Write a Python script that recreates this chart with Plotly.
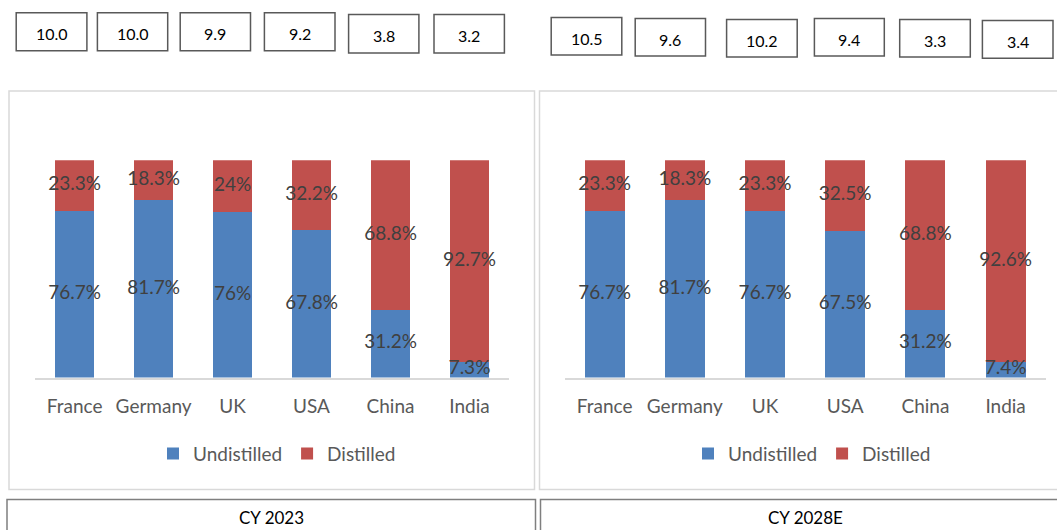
import plotly.graph_objects as go

W, H = 1057, 530

countries = ["France", "Germany", "UK", "USA", "China", "India"]
undistilled_2023 = [76.7, 81.7, 76, 67.8, 31.2, 7.3]
distilled_2023 = [23.3, 18.3, 24, 32.2, 68.8, 92.7]
undistilled_2028 = [76.7, 81.7, 76.7, 67.5, 31.2, 7.4]
distilled_2028 = [23.3, 18.3, 23.3, 32.5, 68.8, 92.6]
top_values_2023 = ["10.0", "10.0", "9.9", "9.2", "3.8", "3.2"]
top_values_2028 = ["10.5", "9.6", "10.2", "9.4", "3.3", "3.4"]
panel_titles = ["CY 2023", "CY 2028E"]

BLUE = "#4F81BD"
RED = "#C0504D"
FONT = "Lato"


def px(x):
    return x / W


def py(y):
    return 1 - y / H


fig = go.Figure()

panels = [
    (undistilled_2023, distilled_2023, "x", "y", "legend"),
    (undistilled_2028, distilled_2028, "x2", "y2", "legend2"),
]
for und, dis, xa, ya, lg in panels:
    fig.add_trace(go.Bar(x=countries, y=und, name="Undistilled", marker_color=BLUE,
                         marker_line_width=0, xaxis=xa, yaxis=ya, legend=lg))
    fig.add_trace(go.Bar(x=countries, y=dis, name="Distilled", marker_color=RED,
                         marker_line_width=0, xaxis=xa, yaxis=ya, legend=lg))
    # data labels centered in each segment
    fig.add_trace(go.Scatter(x=countries, y=[u / 2 for u in und], mode="text",
                             text=[f"{u:g}%" for u in und], textposition="middle center",
                             textfont=dict(family=FONT, size=19, color="#404040"),
                             xaxis=xa, yaxis=ya, showlegend=False, cliponaxis=False,
                             hoverinfo="skip"))
    fig.add_trace(go.Scatter(x=countries, y=[u + d / 2 for u, d in zip(und, dis)], mode="text",
                             text=[f"{d:g}%" for d in dis], textposition="middle center",
                             textfont=dict(family=FONT, size=19, color="#404040"),
                             xaxis=xa, yaxis=ya, showlegend=False, cliponaxis=False,
                             hoverinfo="skip"))

ydom = [py(377.6), py(160.3)]
xcommon = dict(type="category", showline=True, linecolor="#D9D9D9", linewidth=1.5,
               ticks="outside", ticklen=11, tickcolor="rgba(0,0,0,0)",
               tickfont=dict(family=FONT, size=19, color="#595959"),
               showgrid=False, zeroline=False, fixedrange=True)
ycommon = dict(range=[0, 100], visible=False, showgrid=False, fixedrange=True)

shapes = []
annotations = []

# panel borders
shapes.append(dict(type="rect", xref="paper", yref="paper", x0=px(9), x1=px(534.5),
                   y0=py(489.5), y1=py(91), line=dict(color="#D9D9D9", width=1.5)))
shapes.append(dict(type="rect", xref="paper", yref="paper", x0=px(539.5), x1=px(1062),
                   y0=py(489.5), y1=py(91), line=dict(color="#D9D9D9", width=1.5)))

# bottom title boxes
bottom_boxes = [(7, 535.5), (540.5, 1062)]
title_centers = [271, 805]
for (x0, x1), title, cx in zip(bottom_boxes, panel_titles, title_centers):
    shapes.append(dict(type="rect", xref="paper", yref="paper", x0=px(x0), x1=px(x1),
                       y0=py(540), y1=py(499.5), line=dict(color="#7F7F7F", width=1.5)))
    annotations.append(dict(xref="paper", yref="paper", x=px(cx), y=py(517.5), text=title,
                            showarrow=False, font=dict(family=FONT, size=17, color="#000000"),
                            xanchor="center", yanchor="middle", borderpad=0))

# top value boxes
top_boxes_2023 = [(16.2, 86.9, 12.8, 50.7), (97.4, 167.7, 12.8, 50.7), (180.2, 250.5, 12.8, 50.7),
                  (264.4, 335.0, 12.8, 50.7), (348.6, 418.9, 14.5, 53.0), (434.0, 504.4, 14.5, 53.0)]
top_boxes_2028 = [(551.2, 621.8, 17.5, 55.1), (635.2, 705.5, 18.5, 56.1), (726.6, 797.2, 19.5, 57.1),
                  (814.4, 884.3, 18.5, 56.1), (899.7, 970.3, 19.5, 57.1), (982.4, 1053.0, 20.5, 58.2)]
for boxes, vals in [(top_boxes_2023, top_values_2023), (top_boxes_2028, top_values_2028)]:
    for (x0, x1, y0, y1), v in zip(boxes, vals):
        shapes.append(dict(type="rect", xref="paper", yref="paper", x0=px(x0), x1=px(x1),
                           y0=py(y1), y1=py(y0), line=dict(color="#595959", width=1.5)))
        annotations.append(dict(xref="paper", yref="paper", x=px((x0 + x1) / 2),
                                y=py((y0 + y1) / 2 + 2), text=v, showarrow=False,
                                font=dict(family=FONT, size=16, color="#000000"),
                                xanchor="center", yanchor="middle"))

legend_common = dict(orientation="h", xanchor="center", yanchor="middle",
                     font=dict(family=FONT, size=19, color="#595959"),
                     bgcolor="rgba(0,0,0,0)", itemwidth=30, traceorder="normal")

fig.update_layout(
    width=W, height=H,
    margin=dict(l=0, r=0, t=0, b=0),
    paper_bgcolor="white", plot_bgcolor="white",
    barmode="stack", bargap=0.5,
    xaxis=dict(domain=[px(35.1), px(509)], anchor="y", **xcommon),
    yaxis=dict(domain=ydom, anchor="x", **ycommon),
    xaxis2=dict(domain=[px(564.5), px(1045.7)], anchor="y2", **xcommon),
    yaxis2=dict(domain=ydom, anchor="x2", **ycommon),
    legend=dict(x=px(277), y=py(453.7), **legend_common),
    legend2=dict(x=px(812), y=py(453.7), **legend_common),
    shapes=shapes,
    annotations=annotations,
    showlegend=True,
)

fig.write_html("out.html", config={"displayModeBar": False},
               post_script="document.body.style.margin='0';document.body.style.overflow='hidden';")
